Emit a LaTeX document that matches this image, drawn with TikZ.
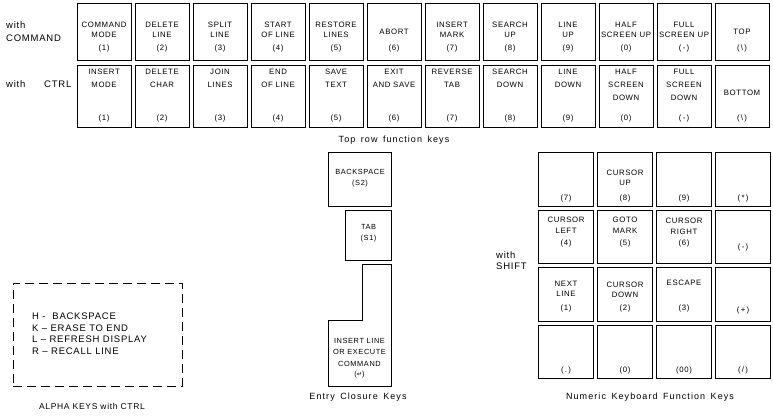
\documentclass[tikz,border=0pt]{standalone}
\usepackage{fontspec}
\setmainfont{Liberation Sans}[LetterSpace=8]
\newfontfamily\symfont{DejaVu Sans}
\newfontfamily\capfont{Liberation Sans}[LetterSpace=12]
\newcommand\mycapfont{\capfont\fontsize{9}{11}\selectfont\spaceskip 5.5pt\relax}
\begin{document}
\begin{tikzpicture}[x=1pt,y=-1pt,
  keybox/.style={draw, line width=1.1pt, inner sep=0pt, anchor=north west},
  kt/.style={font=\fontsize{7.8}{10}\selectfont, align=center, inner sep=0pt},
  kt2/.style={font=\fontsize{7.8}{13}\selectfont, align=center, inner sep=0pt, anchor=north},
  kp/.style={font=\fontsize{7.8}{10.5}\selectfont, align=center, inner sep=0pt},
  ke/.style={font=\fontsize{7.4}{11}\selectfont, align=center, inner sep=0pt},
  lab/.style={font=\fontsize{9.5}{11}\selectfont, inner sep=0pt, anchor=west},
  captxt/.style={font=\mycapfont, inner sep=0pt}]
\useasboundingbox (0,0) rectangle (773,416);

% left labels
\node[lab] (w1) at (6,25) {with};
\node[lab] (w2) at (6,38) {COMMAND};
\node[lab] (w3) at (6,84) {with};
\node[lab] (w4) at (44,84) {CTRL};

% top row, with COMMAND
\foreach \t/\n [count=\i from 0] in {{COMMAND\\MODE}/(1),{DELETE\\LINE}/(2),{SPLIT\\LINE}/(3),{START\\OF LINE}/(4),{RESTORE\\LINES}/(5),{\\ABORT}/(6),{INSERT\\MARK}/(7),{SEARCH\\UP}/(8),{LINE\\UP}/(9),{HALF\\SCREEN UP}/(0),{FULL\\SCREEN UP}/(\,-\,),{\\TOP}/(\,\textbackslash\,)}
{
  \node[keybox, minimum width=54pt, minimum height=57pt] (a\i) at ({76.5+58*\i},3) {};
  \node[kt] (at\i) at ([yshift=-27pt]a\i.north) {\t};
  \node[kt] (an\i) at ([yshift=-45pt]a\i.north) {\n};
}

% top row, with CTRL
\foreach \t/\n [count=\i from 0] in {{INSERT\\MODE}/(1),{DELETE\\CHAR}/(2),{JOIN\\LINES}/(3),{END\\OF LINE}/(4),{SAVE\\TEXT}/(5),{EXIT\\AND SAVE}/(6),{REVERSE\\TAB}/(7),{SEARCH\\DOWN}/(8),{LINE\\DOWN}/(9),{HALF\\SCREEN\\DOWN}/(0),{FULL\\SCREEN\\DOWN}/(\,-\,),{}/(\,\textbackslash\,)}
{
  \node[keybox, minimum width=54pt, minimum height=62pt] (b\i) at ({76.5+58*\i},65) {};
  \node[kt2] (bt\i) at ([yshift=-4pt]b\i.north) {\t};
  \node[kt] (bn\i) at ([yshift=-53pt]b\i.north) {\n};
}
\node[kt] (btm) at ([yshift=-28pt]b11.north) {BOTTOM};

\node[captxt] (cap1) at (394,140) {Top row function keys};

% entry closure keys
\node[keybox, minimum width=63pt, minimum height=54pt] (bs) at (328,152) {};
\node[ke] (bst) at ([yshift=-26pt]bs.north) {BACKSPACE\\(S2)};
\node[keybox, minimum width=46pt, minimum height=50pt] (tab) at (345,210) {};
\node[ke] (tabt) at ([yshift=-23pt]tab.north) {TAB\\(S1)};
\coordinate (ent) at (328,386);
\draw[line width=1pt] (ent) -- (391,386) -- (391,264) -- (362,264) -- (362,320) -- (328,320) -- cycle;
\node[ke, font=\fontsize{7.4}{11.5}\selectfont] (entt) at (359.5,352) {INSERT LINE\\OR EXECUTE\\COMMAND};
\node[ke] (entn) at (359.5,375) {({\symfont\fontsize{6.5}{8}\selectfont ↵})};
\node[captxt] (cap2) at (358,397) {Entry Closure Keys};

% numeric keypad
\node[lab] (s1) at (496,255) {with};
\node[lab] (s2) at (496,266) {SHIFT};
\foreach \r/\yy in {1/152,2/209.5,3/267,4/324.5}{
  \foreach \c/\xx in {1/538,2/597,3/656,4/715}{
    \node[keybox, minimum width=55pt, minimum height=53.5pt] (n\r\c) at (\xx,\yy) {};
  }
}
\node[kp] (t11) at ([yshift=-46pt]n11.north) {(7)};
\node[kp] (t12) at ([yshift=-26pt]n12.north) {CURSOR\\UP};
\node[kp] (u12) at ([yshift=-46pt]n12.north) {(8)};
\node[kp] (t13) at ([yshift=-46pt]n13.north) {(9)};
\node[kp] (t14) at ([yshift=-46pt]n14.north) {(\,*\,)};
\node[kp] (t21) at ([yshift=-16pt]n21.north) {CURSOR\\LEFT};
\node[kp] (u21) at ([yshift=-34pt]n21.north) {(4)};
\node[kp] (t22) at ([yshift=-16pt]n22.north) {GOTO\\MARK};
\node[kp] (u22) at ([yshift=-34pt]n22.north) {(5)};
\node[kp] (t23) at ([yshift=-17pt]n23.north) {CURSOR\\RIGHT};
\node[kp] (u23) at ([yshift=-34pt]n23.north) {(6)};
\node[kp] (t24) at ([yshift=-38pt]n24.north) {(\,-\,)};
\node[kp] (t31) at ([yshift=-22pt]n31.north) {NEXT\\LINE};
\node[kp] (u31) at ([yshift=-41pt]n31.north) {(1)};
\node[kp] (t32) at ([yshift=-23pt]n32.north) {CURSOR\\DOWN};
\node[kp] (u32) at ([yshift=-41pt]n32.north) {(2)};
\node[kp] (t33) at ([yshift=-16pt]n33.north) {ESCAPE};
\node[kp] (u33) at ([yshift=-41pt]n33.north) {(3)};
\node[kp] (t34) at ([yshift=-43pt]n34.north) {(\,+\,)};
\node[kp] (t41) at ([yshift=-45.5pt]n41.north) {(\,.\,)};
\node[kp] (t42) at ([yshift=-45.5pt]n42.north) {(0)};
\node[kp] (t43) at ([yshift=-45.5pt]n43.north) {(00)};
\node[kp] (t44) at ([yshift=-45.5pt]n44.north) {(\,/\,)};
\node[captxt] (cap3) at (650,397) {Numeric Keyboard Function Keys};

% alpha keys with ctrl
\node[draw, line width=0.8pt, dash pattern=on 9pt off 5pt, minimum width=169pt, minimum height=103pt, anchor=north west, inner sep=0pt] (alpha) at (13,283) {};
\node[font=\fontsize{9.5}{11.5}\selectfont, align=left, anchor=north west, inner sep=0pt] (alphat) at (32,313) {H -\ \ BACKSPACE\\K -- ERASE TO END\\L -- REFRESH DISPLAY\\R -- RECALL LINE};
\node[font=\fontsize{8.5}{10}\selectfont, inner sep=0pt] (cap4) at (92,406) {ALPHA KEYS with CTRL};
\end{tikzpicture}
\end{document}
